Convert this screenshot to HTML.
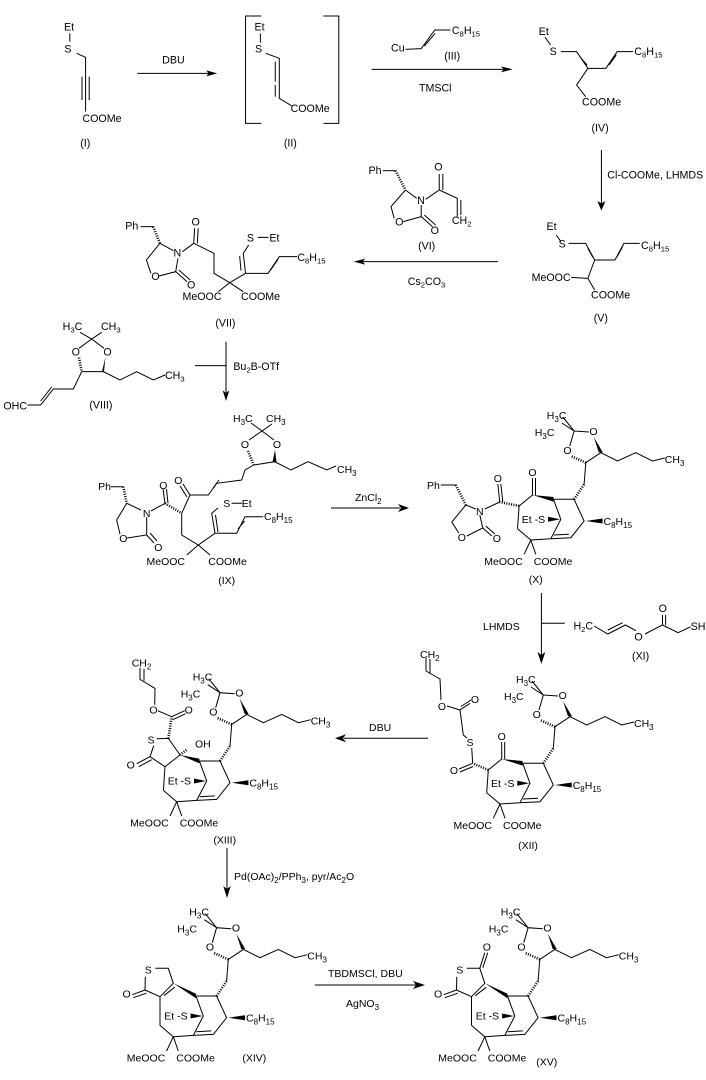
<!DOCTYPE html>
<html><head><meta charset="utf-8"><style>
html,body{margin:0;padding:0;background:#fff}
svg{display:block}
text{font-family:"Liberation Sans",Arial,sans-serif;font-size:10.5px;fill:#000}
.z text{font-size:32px}
line,path,polyline{stroke:#000;fill:none;stroke-width:1;vector-effect:non-scaling-stroke}
.h{stroke-dasharray:1 1.4;stroke-width:2.6}
polygon{fill:#000;stroke:none}
.m{text-anchor:middle}
.e{text-anchor:end}
</style></head><body>
<svg width="706" height="1080" viewBox="0 0 706 1080" xmlns="http://www.w3.org/2000/svg">
<defs>
<g id="core">
<path d="M0,0 L-13.3,-11.3 M0,0 L20,-1.3 L40,-2.3 L53.3,-19 L43.3,-40.7 L22.7,-40.7 M22.7,-40.7 L30,-20.7 L20,-1.3 M23,-5 L38,-5.8"/>
<polygon points="55,-19 71.7,-21.5 71.7,-16.5"/>
<polygon points="17.3,-23.2 17.3,-18.2 29.3,-20.7"/>
<path class="h" d="M43.3,-40.7 L53.3,-55.7"/>
<path d="M53.3,-55.7 L55,-77.3 L70,-87.3 L86.7,-79 L105,-87.3 L121.7,-79 L134,-82"/>
<path class="h" d="M55,-77.3 L40,-84"/>
<path d="M39,-94 L43.3,-109 L58,-108 M43.3,-109 L31,-117 M43.3,-109 L32,-123"/>
<polygon points="63,-103 68,-87.6 72,-87.6"/>
<path d="M0,0 L-6.7,14.3 M0,0 L5,14.3"/>
</g>
</defs>

<!-- REGION 1 (zoom 1 space) -->
<g class="z" transform="scale(0.4505,0.33333)">
<path d="M155,100 L155,125 M170,160 L190,172 L190,335 M182,230 L182,300 M198,230 L198,300"/>
<text transform="translate(142,92) scale(.74,1)">Et</text>
<text transform="translate(143,158) scale(.74,1)">S</text>
<text transform="translate(183,366) scale(.74,1)">COOMe</text>
<text transform="translate(178,440) scale(.74,1)">(I)</text>
<path d="M305,220 L465,220"/>
<polygon points="482,220 458,211 463,220 458,229"/>
<text transform="translate(360,190) scale(.74,1)">DBU</text>
<path d="M580,48 L545,48 L545,370 L580,370 M718,48 L752,48 L752,370 L718,370"/>
<path d="M578,100 L578,128 M590,160 L620,175 L620,295 L648,318 M611,185 L611,245 M611,255 L611,290"/>
<text transform="translate(565,92) scale(.74,1)">Et</text>
<text transform="translate(566,158) scale(.74,1)">S</text>
<text transform="translate(645,336) scale(.74,1)">COOMe</text>
<text transform="translate(630,440) scale(.74,1)">(II)</text>
<path d="M900,148 L935,146 L965,90 L1000,90 M942,138 L966,100"/>
<text transform="translate(868,155) scale(.74,1)">Cu</text>
<text transform="translate(1003,102) scale(.74,1)">C<tspan font-size="23" dy="8">8</tspan><tspan dy="-8">H</tspan><tspan font-size="23" dy="8">15</tspan></text>
<text transform="translate(986,178) scale(.74,1)">(III)</text>
<path d="M825,208 L1118,208"/>
<polygon points="1138,208 1112,199 1118,208 1112,217"/>
<text transform="translate(930,275) scale(.74,1)">TMSCl</text>
<path d="M1210,112 L1222,135 M1245,155 L1280,155 L1305,205 L1345,205 L1370,155 L1405,155 M1287,170 L1303,195 M1352,195 L1368,165 M1305,205 L1280,255 L1300,290"/>
<text transform="translate(1196,105) scale(.74,1)">Et</text>
<text transform="translate(1220,165) scale(.74,1)">S</text>
<text transform="translate(1408,165) scale(.74,1)">C<tspan font-size="23" dy="8">8</tspan><tspan dy="-8">H</tspan><tspan font-size="23" dy="8">15</tspan></text>
<text transform="translate(1292,316) scale(.74,1)">COOMe</text>
<text transform="translate(1313,395) scale(.74,1)">(IV)</text>
<path d="M1335,450 L1335,612"/>
<polygon points="1335,632 1326,603 1335,610 1344,603"/>
<text transform="translate(1348,535) scale(.74,1)">Cl-COOMe, LHMDS</text>
<path d="M1235,705 L1245,725 M1262,730 L1300,730 L1320,780 L1365,780 L1385,730 L1420,730 M1305,745 L1316,772 M1370,770 L1382,740 M1320,780 L1305,835 L1320,870 M1268,832 L1305,835"/>
<text transform="translate(1213,690) scale(.74,1)">Et</text>
<text transform="translate(1240,742) scale(.74,1)">S</text>
<text transform="translate(1423,747) scale(.74,1)">C<tspan font-size="23" dy="8">8</tspan><tspan dy="-8">H</tspan><tspan font-size="23" dy="8">15</tspan></text>
<text transform="translate(1180,843) scale(.74,1)">MeOOC</text>
<text transform="translate(1312,896) scale(.74,1)">COOMe</text>
<text transform="translate(1318,965) scale(.74,1)">(V)</text>
<path d="M1105,785 L805,785"/>
<polygon points="785,785 811,776 805,785 811,794"/>
<text transform="translate(905,855) scale(.74,1)">Cs<tspan font-size="23" dy="8">2</tspan><tspan dy="-8">CO</tspan><tspan font-size="23" dy="8">3</tspan></text>
<path d="M850,512 L878,512"/>
<path class="h" d="M878,512 L900,570"/>
<path d="M900,570 L925,595 M935,615 L935,650 L895,665 M875,655 L868,620 L900,570 M935,650 L960,680 M942,645 L967,675 M945,598 L975,570 L975,522 M983,570 L983,522 M975,570 L1015,595 L1015,650 M1023,600 L1023,645"/>
<text transform="translate(818,522) scale(.74,1)">Ph</text>
<text transform="translate(926,612) scale(.74,1)">N</text>
<text transform="translate(877,676) scale(.74,1)">O</text>
<text transform="translate(956,702) scale(.74,1)">O</text>
<text transform="translate(964,512) scale(.74,1)">O</text>
<text transform="translate(1003,672) scale(.74,1)">CH<tspan font-size="23" dy="8">2</tspan></text>
<text transform="translate(928,748) scale(.74,1)">(VI)</text>
<path d="M312,680 L340,680"/>
<path class="h" d="M340,680 L355,730"/>
<path d="M355,730 L385,752 M395,775 L390,815 L353,828 M335,820 L325,780 L355,730 M390,815 L415,845 M397,810 L422,840 M405,755 L430,730 L432,685 M438,730 L440,685 M430,730 L475,760 L475,820 L510,848 L545,820 L540,760 L552,735 M535,812 L532,768 M545,820 L595,820 L620,770 L660,770 M601,810 L617,778 M510,848 L485,875 M510,848 L540,875 M572,712 L596,712"/>
<text transform="translate(278,688) scale(.74,1)">Ph</text>
<text transform="translate(385,770) scale(.74,1)">N</text>
<text transform="translate(336,840) scale(.74,1)">O</text>
<text transform="translate(415,866) scale(.74,1)">O</text>
<text transform="translate(425,677) scale(.74,1)">O</text>
<text transform="translate(548,724) scale(.74,1)">S</text>
<text transform="translate(598,724) scale(.74,1)">Et</text>
<text transform="translate(660,783) scale(.74,1)">C<tspan font-size="23" dy="8">8</tspan><tspan dy="-8">H</tspan><tspan font-size="23" dy="8">15</tspan></text>
<text transform="translate(405,900) scale(.74,1)">MeOOC</text>
<text transform="translate(535,900) scale(.74,1)">COOMe</text>
<text transform="translate(478,980) scale(.74,1)">(VII)</text>
</g>

<!-- VIII region -->
<g class="z" transform="translate(0,315) scale(0.33333)">
<text x="188" y="45">H<tspan font-size="23" dy="8">3</tspan><tspan dy="-8">C</tspan></text>
<text x="303" y="45">CH<tspan font-size="23" dy="8">3</tspan></text>
<path d="M240,52 L275,72 L305,52 M275,72 L237,100 M275,72 L312,100"/>
<text x="215" y="122">O</text>
<text x="310" y="122">O</text>
<path class="h" d="M237,128 L245,170"/>
<polygon points="316,128 306,170 312,172"/>
<path d="M245,170 L310,170 L360,195 L410,170 L460,195 L495,180 M245,170 L220,222 L160,222 L122,270 L82,270 M155,216 L122,258"/>
<text x="495" y="192">CH<tspan font-size="23" dy="8">3</tspan></text>
<text x="10" y="283">OHC</text>
<text x="268" y="280">(VIII)</text>
<path d="M678,80 L678,236 M585,152 L678,152"/>
<polygon points="678,258 668,226 678,234 688,226"/>
<text x="700" y="165">Bu<tspan font-size="23" dy="8">2</tspan><tspan dy="-8">B-OTf</tspan></text>
</g>

<!-- IX -->
<text x="233" y="422">H<tspan font-size="8" dy="3">3</tspan><tspan dy="-3">C</tspan></text>
<text x="266" y="422">CH<tspan font-size="8" dy="3">3</tspan></text>
<path d="M251,423 L262,431 L272,424 M262,431 L249,440 M262,431 L274,440"/>
<text x="245" y="448" class="m">O</text>
<text x="277" y="448" class="m">O</text>
<path class="h" d="M248,451 L253.7,465"/>
<polygon points="275,450 272.5,462 276.5,462"/>
<path d="M253.7,465 L274.6,461.7 L291,470 L308,461.7 L326.7,470 L336,466 M253.7,465 L245,470 L241.7,480 L216.7,483.3 L208.3,495 L190,495 M213,488 L219,480"/>
<text x="337" y="473">CH<tspan font-size="8" dy="3">3</tspan></text>
<path d="M190,495 L181.7,513.3 L181.7,535 L198.3,545 L215,533.3 L211.7,513.3 L218,508 M218,532 L215.5,515 M215,533.3 L236.7,533.3 L245,516.7 L263.3,516.7 M238,529 L244.5,521 M198.3,545 L186.7,555 M198.3,545 L210,555 M190,495 L183,484 M187,497 L180,486 M231.5,503.3 L242,503.3"/>
<text x="178.3" y="484" class="m">O</text>
<text x="226.7" y="507" class="m">S</text>
<text x="246.7" y="507" class="m">Et</text>
<text x="264" y="520">C<tspan font-size="8" dy="3">8</tspan><tspan dy="-3">H</tspan><tspan font-size="8" dy="3">15</tspan></text>
<text x="185" y="565" class="e">MeOOC</text>
<text x="208.3" y="565">COOMe</text>
<text x="226.7" y="584" class="m">(IX)</text>
<path class="h" d="M165,503.3 L181.7,513.3"/>
<path d="M165,503.3 L163,489 M168,503 L166.5,489 M165,503.3 L151,511 M146.7,517 L146.7,535 L127,538 M120,534 L116.7,520 L126.7,503.3 L141,510 M146.7,535 L154,543 M150,533 L157,541 M111,486.7 L123.3,486.7"/>
<path class="h" d="M123.3,486.7 L126.7,503.3"/>
<text x="163.3" y="489" class="m">O</text>
<text x="146.7" y="517" class="m">N</text>
<text x="123.3" y="542" class="m">O</text>
<text x="158.3" y="551" class="m">O</text>
<text x="111" y="490" class="e">Ph</text>

<path d="M331,508 L400,508"/>
<polygon points="409,508 398,504 401,508 398,512"/>
<text x="355" y="501">ZnCl<tspan font-size="8" dy="3">2</tspan></text>

<!-- X -->
<g transform="translate(530.8,540)">
<use href="#core"/>
<path d="M-13.3,-11.3 L-11.7,-34 L1.7,-45 L1.7,-62 M4.7,-45 L4.7,-62"/>
<polygon points="1.7,-45 22.7,-43 22.7,-38.4"/>
<path class="h" d="M-11.7,-34 L-31,-38"/>
<path d="M-31,-38 L-33,-56 M-28,-38 L-30,-56 M-31,-38 L-46,-31 M-51,-25 L-48,-12 L-64,-4 M-72,-7 L-79,-18 L-65,-35 L-55,-31 M-48,-12 L-39,-4 M-45,-14 L-36,-6 M-90,-55 L-75,-55"/>
<path class="h" d="M-75,-55 L-65,-35"/>
<text x="1.7" y="-64" class="m">O</text>
<text x="-33" y="-58" class="m">O</text>
<text x="-51" y="-25" class="m">N</text>
<text x="-69" y="1" class="m">O</text>
<text x="-34" y="2" class="m">O</text>
<text x="-91" y="-51" class="e">Ph</text>
<text x="36.7" y="-86" class="m">O</text>
<text x="62.7" y="-105" class="m">O</text>
<text x="16" y="-121">H<tspan font-size="8" dy="3">3</tspan><tspan dy="-3">C</tspan></text>
<text x="4" y="-104">H<tspan font-size="8" dy="3">3</tspan><tspan dy="-3">C</tspan></text>
<text x="134" y="-77">CH<tspan font-size="8" dy="3">3</tspan></text>
<text x="-9" y="-17">Et -S</text>
<text x="72.7" y="-15">C<tspan font-size="8" dy="3">8</tspan><tspan dy="-3">H</tspan><tspan font-size="8" dy="3">15</tspan></text>
<text x="-8" y="25" class="e">MeOOC</text>
<text x="3" y="25">COOMe</text>
<text x="5" y="43" class="m">(X)</text>
</g>

<path d="M541.4,593 L541.4,655 M541.4,623.3 L564.8,623.3"/>
<polygon points="541.4,664 537.5,652 541.4,655 545.3,652"/>
<text x="483" y="630">LHMDS</text>
<g class="z" transform="translate(100,610) scale(0.390625,0.33333)">
<text transform="translate(1212,58) scale(.853,1)">H<tspan font-size="23" dy="8">2</tspan><tspan dy="-8">C</tspan></text>
<path d="M1265,48 L1300,72 L1345,45 L1372,62 M1300,60 L1338,38 M1395,72 L1440,45 L1440,15 M1448,45 L1448,15 M1440,45 L1480,68 L1512,50"/>
<text transform="translate(1368,92) scale(.853,1)">O</text>
<text transform="translate(1430,6) scale(.853,1)">O</text>
<text transform="translate(1512,60) scale(.853,1)">SH</text>
<text transform="translate(1362,148) scale(.853,1)">(XI)</text>
</g>

<!-- XII -->
<g transform="translate(500,804)">
<use href="#core"/>
<path d="M-13.3,-11.3 L-11.7,-34 L1.7,-45 L1.7,-62 M4.7,-45 L4.7,-62"/>
<polygon points="1.7,-45 22.7,-43 22.7,-38.4"/>
<path class="h" d="M-11.7,-34 L-27.3,-40.7"/>
<path d="M-27.3,-40.7 L-41,-35 M-27,-37.5 L-40,-32 M-27.3,-40.7 L-28.3,-56 M-33,-66 L-36.7,-69 L-40,-94 L-30,-100.7 M-39,-97.5 L-29,-104 M-40,-94 L-53,-98 M-59,-104 L-60,-125 L-74,-133 L-74,-146 M-70,-131 L-70,-145"/>
<text x="1.7" y="-64" class="m">O</text>
<text x="-46" y="-30" class="m">O</text>
<text x="-30" y="-58" class="m">S</text>
<text x="-25" y="-101" class="m">O</text>
<text x="-58" y="-94" class="m">O</text>
<text x="-80" y="-146">CH<tspan font-size="8" dy="3">2</tspan></text>
<text x="36.7" y="-86" class="m">O</text>
<text x="62.7" y="-105" class="m">O</text>
<text x="16" y="-121">H<tspan font-size="8" dy="3">3</tspan><tspan dy="-3">C</tspan></text>
<text x="4" y="-104">H<tspan font-size="8" dy="3">3</tspan><tspan dy="-3">C</tspan></text>
<text x="134" y="-77">CH<tspan font-size="8" dy="3">3</tspan></text>
<text x="-9" y="-17">Et -S</text>
<text x="72.7" y="-15">C<tspan font-size="8" dy="3">8</tspan><tspan dy="-3">H</tspan><tspan font-size="8" dy="3">15</tspan></text>
<text x="-8" y="25" class="e">MeOOC</text>
<text x="3" y="25">COOMe</text>
<text x="28" y="45" class="m">(XII)</text>
</g>

<path d="M428,738.3 L344,738.3"/>
<polygon points="335,738.3 346,734.3 343,738.3 346,742.3"/>
<text x="369" y="731">DBU</text>

<!-- XIII -->
<g transform="translate(176.7,801.7)">
<use href="#core"/>
<path d="M-13.3,-11.3 L-11.7,-35 L3.3,-46.7 M-11.7,-35 L-26.7,-45 L-23,-56 M-20,-63 L-8.3,-63.3 L3.3,-46.7 M-26.7,-45 L-40,-38 M-25,-42 L-38,-35 M-5,-85 L8,-91 M-4,-82 L9,-88 M-5,-85 L-19,-91 M-22,-97 L-21.7,-113.3 L-36.7,-122.3 L-36.7,-134 M-32.7,-121 L-32.7,-133"/>
<polygon points="3.3,-46.7 22.7,-43 22.7,-38.4"/>
<path class="h" d="M-8.3,-63.3 L-5,-85"/>
<path class="h" d="M3.3,-46.7 L10,-52"/>
<text x="-25.7" y="-58" class="m">S</text>
<text x="-46" y="-33" class="m">O</text>
<text x="12" y="-88" class="m">O</text>
<text x="-23.3" y="-88" class="m">O</text>
<text x="-45" y="-135">CH<tspan font-size="8" dy="3">2</tspan></text>
<text x="18.3" y="-54">OH</text>
<text x="36.7" y="-86" class="m">O</text>
<text x="62.7" y="-105" class="m">O</text>
<text x="16" y="-121">H<tspan font-size="8" dy="3">3</tspan><tspan dy="-3">C</tspan></text>
<text x="4" y="-104">H<tspan font-size="8" dy="3">3</tspan><tspan dy="-3">C</tspan></text>
<text x="134" y="-77">CH<tspan font-size="8" dy="3">3</tspan></text>
<text x="-9" y="-17">Et -S</text>
<text x="72.7" y="-15">C<tspan font-size="8" dy="3">8</tspan><tspan dy="-3">H</tspan><tspan font-size="8" dy="3">15</tspan></text>
<text x="-8" y="25" class="e">MeOOC</text>
<text x="3" y="25">COOMe</text>
<text x="48" y="42" class="m">(XIII)</text>
</g>

<path d="M227,848 L227,889"/>
<polygon points="227,898 223.3,886 227,889 230.7,886"/>
<text x="234" y="880">Pd(OAc)<tspan font-size="8" dy="3">2</tspan><tspan dy="-3">/PPh</tspan><tspan font-size="8" dy="3">3</tspan><tspan dy="-3">, pyr/Ac</tspan><tspan font-size="8" dy="3">2</tspan><tspan dy="-3">O</tspan></text>

<!-- XIV -->
<g transform="translate(173.3,1036.7)">
<use href="#core"/>
<path d="M-13.3,-11.3 L-13.3,-40 L0,-53.4 L-5,-68.4 L-18,-68.4 M-28,-60 L-28.3,-46.7 L-13.3,-40 M-9.5,-41 L1.5,-49.5 M-28.3,-46.7 L-41,-42 M-27,-43.5 L-40,-39"/>
<polygon points="0,-53.4 22.7,-43 22.7,-38.4"/>
<text x="-25" y="-63" class="m">S</text>
<text x="-46.7" y="-39" class="m">O</text>
<text x="36.7" y="-86" class="m">O</text>
<text x="62.7" y="-105" class="m">O</text>
<text x="16" y="-121">H<tspan font-size="8" dy="3">3</tspan><tspan dy="-3">C</tspan></text>
<text x="4" y="-104">H<tspan font-size="8" dy="3">3</tspan><tspan dy="-3">C</tspan></text>
<text x="134" y="-77">CH<tspan font-size="8" dy="3">3</tspan></text>
<text x="-9" y="-17">Et -S</text>
<text x="72.7" y="-15">C<tspan font-size="8" dy="3">8</tspan><tspan dy="-3">H</tspan><tspan font-size="8" dy="3">15</tspan></text>
<text x="-8" y="25" class="e">MeOOC</text>
<text x="3" y="25">COOMe</text>
<text x="81" y="25" class="m">(XIV)</text>
</g>

<path d="M314.8,985 L416,985"/>
<polygon points="425,985 413,981 416,985 413,989"/>
<text x="328" y="977">TBDMSCl, DBU</text>
<text x="346" y="1007">AgNO<tspan font-size="8" dy="3">3</tspan></text>

<!-- XV -->
<g transform="translate(484.8,1036.7)">
<use href="#core"/>
<path d="M-13.3,-11.3 L-13.3,-40 L0,-53.4 L-5,-68.4 L-18,-68.4 M-28,-60 L-28.3,-46.7 L-13.3,-40 M-9.5,-41 L1.5,-49.5 M-28.3,-46.7 L-41,-42 M-27,-43.5 L-40,-39 M-5,-68.4 L0,-84 M-2,-69 L3,-84"/>
<polygon points="0,-53.4 22.7,-43 22.7,-38.4"/>
<text x="-25" y="-63" class="m">S</text>
<text x="-46.7" y="-39" class="m">O</text>
<text x="2" y="-86" class="m">O</text>
<text x="36.7" y="-86" class="m">O</text>
<text x="62.7" y="-105" class="m">O</text>
<text x="16" y="-121">H<tspan font-size="8" dy="3">3</tspan><tspan dy="-3">C</tspan></text>
<text x="4" y="-104">H<tspan font-size="8" dy="3">3</tspan><tspan dy="-3">C</tspan></text>
<text x="134" y="-77">CH<tspan font-size="8" dy="3">3</tspan></text>
<text x="-9" y="-17">Et -S</text>
<text x="72.7" y="-15">C<tspan font-size="8" dy="3">8</tspan><tspan dy="-3">H</tspan><tspan font-size="8" dy="3">15</tspan></text>
<text x="-8" y="25" class="e">MeOOC</text>
<text x="3" y="25">COOMe</text>
<text x="62" y="29" class="m">(XV)</text>
</g>
</svg>
</body></html>
